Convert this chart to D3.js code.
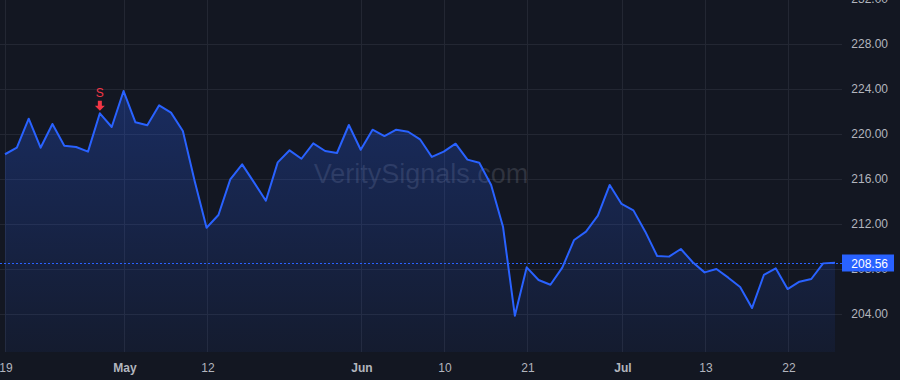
<!DOCTYPE html>
<html>
<head>
<meta charset="utf-8">
<script src="https://cdn.jsdelivr.net/npm/d3@7"></script>
<style>
  html, body { margin: 0; padding: 0; background: #131722; }
  #chart { width: 900px; height: 380px; }
</style>
</head>
<body>
<div id="chart"></div>
<script>
// closing prices, one per session
var closes = [
  218.2, 218.78, 221.36, 218.78, 220.89, 218.96, 218.84, 218.43, 221.84, 220.62,
  223.82, 221.04, 220.77, 222.55, 221.9, 220.27, 215.8, 211.67, 212.8, 215.97,
  217.3, 215.7, 214.07, 217.48, 218.55, 217.8, 219.17, 218.49, 218.31, 220.8,
  218.6, 220.38, 219.82, 220.38, 220.2, 219.53, 217.96, 218.43, 219.14, 217.72,
  217.45, 215.47, 211.76, 203.85, 208.15, 207.02, 206.6, 208.12, 210.58, 211.32,
  212.74, 215.47, 213.78, 213.21, 211.32, 209.16, 209.1, 209.78, 208.6, 207.7,
  208.0, 207.23, 206.4, 204.53, 207.47, 208.06, 206.22, 206.87, 207.11, 208.5,
  208.56
];
var tickIdx = [0, 10, 17, 30, 37, 44, 52, 59, 66];
var tickLabels = ["19", "May", "12", "Jun", "10", "21", "Jul", "13", "22"];
var boldTicks = ["May", "Jun", "Jul"];
var priceTicks = [204, 208, 212, 216, 220, 224, 228, 232];
var signals = [{ i: 8, label: "S" }];
var lastPrice = 208.56;

var W = 900, H = 380;
var plotRight = 842, plotBottom = 352;
var font = "'Liberation Sans', Arial, sans-serif";

var svg = d3.select("#chart").append("svg")
  .attr("width", W)
  .attr("height", H)
  .style("display", "block");

svg.append("rect").attr("width", W).attr("height", H).attr("fill", "#131722");

var x = d3.scaleLinear().domain([0, closes.length - 1]).range([5, 835]);
var y = d3.scaleLinear().domain([204, 232]).range([314, -1]);

var defs = svg.append("defs");
var grad = defs.append("linearGradient")
  .attr("id", "areaFill")
  .attr("x1", 0).attr("y1", 0).attr("x2", 0).attr("y2", 1);
grad.append("stop").attr("offset", "0%").attr("stop-color", "#2962ff").attr("stop-opacity", 0.28);
grad.append("stop").attr("offset", "100%").attr("stop-color", "#2962ff").attr("stop-opacity", 0.06);

// grid
var grid = svg.append("g");
grid.selectAll("line.h")
  .data(priceTicks)
  .enter().append("line")
  .attr("x1", 0).attr("x2", plotRight)
  .attr("y1", function(d) { return y(d) + 0.5; })
  .attr("y2", function(d) { return y(d) + 0.5; })
  .attr("stroke", "#232733");
grid.selectAll("line.v")
  .data(tickIdx)
  .enter().append("line")
  .attr("x1", function(d) { return Math.round(x(d)) + 0.5; })
  .attr("x2", function(d) { return Math.round(x(d)) + 0.5; })
  .attr("y1", 0).attr("y2", plotBottom)
  .attr("stroke", "#232733");

// watermark
svg.append("text")
  .attr("x", 421)
  .attr("y", 183)
  .attr("text-anchor", "middle")
  .attr("font-family", font)
  .attr("font-size", 27)
  .attr("fill", "#787b86")
  .attr("fill-opacity", 0.28)
  .text("VeritySignals.com");

// area + line
var area = d3.area()
  .x(function(d, i) { return x(i); })
  .y0(plotBottom)
  .y1(function(d) { return y(d); });
var line = d3.line()
  .x(function(d, i) { return x(i); })
  .y(function(d) { return y(d); });

svg.append("path")
  .datum(closes)
  .attr("d", area)
  .attr("fill", "url(#areaFill)");

svg.append("path")
  .datum(closes)
  .attr("d", line)
  .attr("fill", "none")
  .attr("stroke", "#2962ff")
  .attr("stroke-width", 2)
  .attr("stroke-linejoin", "round");

// y axis labels
var yAxis = d3.axisRight(y).tickValues(priceTicks).tickSize(0).tickPadding(0)
  .tickFormat(d3.format(".2f"));
var yg = svg.append("g")
  .attr("transform", "translate(888,0)")
  .call(yAxis);
yg.select(".domain").remove();
yg.selectAll("text")
  .attr("text-anchor", "end")
  .attr("x", 0)
  .attr("font-family", font)
  .attr("font-size", 12)
  .attr("fill", "#b2b5be");

// x axis labels
var xAxis = d3.axisBottom(x).tickValues(tickIdx).tickSize(0).tickPadding(0)
  .tickFormat(function(d, i) { return tickLabels[i]; });
var xg = svg.append("g")
  .attr("transform", "translate(0," + (plotBottom + 11) + ")")
  .call(xAxis);
xg.select(".domain").remove();
xg.selectAll("text")
  .attr("font-family", font)
  .attr("font-size", 12)
  .attr("fill", "#b2b5be")
  .attr("font-weight", function(d, i) { return boldTicks.indexOf(tickLabels[i]) >= 0 ? "bold" : "normal"; });
xg.selectAll(".tick").attr("transform", function(d) { return "translate(" + (Math.round(x(d)) + 1) + ",0)"; });

// signal markers
var sig = svg.selectAll("g.sig")
  .data(signals)
  .enter().append("g")
  .attr("transform", function(d) { return "translate(" + x(d.i) + "," + y(closes[d.i]) + ")"; });
sig.append("text")
  .attr("y", -16)
  .attr("text-anchor", "middle")
  .attr("font-family", font)
  .attr("font-size", 12)
  .attr("fill", "#f23645")
  .text(function(d) { return d.label; });
sig.append("path")
  .attr("d", "M-2,-12.5 L2,-12.5 L2,-7.5 L5,-7.5 L0,-2.5 L-5,-7.5 L-2,-7.5 Z")
  .attr("fill", "#f23645");

// last price line + label
var py = Math.round(y(lastPrice)) + 0.5;
svg.append("line")
  .attr("x1", 0).attr("x2", plotRight)
  .attr("y1", py).attr("y2", py)
  .attr("stroke", "#2962ff")
  .attr("stroke-dasharray", "2,2");
svg.append("rect")
  .attr("x", plotRight).attr("y", py - 9)
  .attr("width", 52).attr("height", 17)
  .attr("fill", "#2962ff");
svg.append("text")
  .attr("x", 888).attr("y", py + 4)
  .attr("text-anchor", "end")
  .attr("font-family", font)
  .attr("font-size", 12)
  .attr("fill", "#ffffff")
  .text(d3.format(".2f")(lastPrice));
</script>
</body>
</html>
